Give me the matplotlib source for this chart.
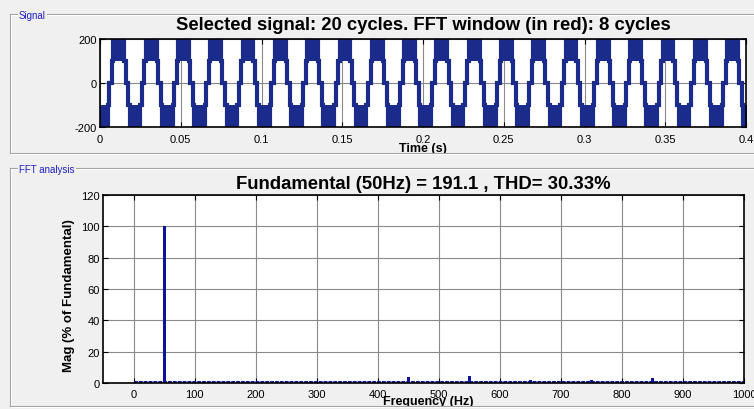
import matplotlib
matplotlib.use("Agg")
import matplotlib.pyplot as plt
from matplotlib.lines import Line2D

plt.rcParams['font.family'] = ['Liberation Sans', 'DejaVu Sans']
plt.rcParams['axes.unicode_minus'] = False

# --- signal: 5-level inverter phase voltage, one 50 Hz cycle repeated ---
CYCLE_MS = 20.0
N_CYCLES = 20
# pieces of one cycle (ms from cycle start); low != high marks a chopped band
PIECE_START = [5.0, 5.83, 7.5, 8.33, 15.0, 15.83, 17.5, 18.33]
PIECE_END = [5.83, 7.5, 8.33, 15.0, 15.83, 17.5, 18.33, 25.0]
PIECE_LOW = [-100, 0, 100, 100, 100, 0, -100, -200]
PIECE_HIGH = [-100, 0, 100, 200, 100, 0, -100, -100]

TIME_TICKS = [0, 0.05, 0.1, 0.15, 0.2, 0.25, 0.3, 0.35, 0.4]
TIME_LABELS = ['0', '0.05', '0.1', '0.15', '0.2', '0.25', '0.3', '0.35', '0.4']
SIG_TICKS = [-200, 0, 200]

# --- FFT of the 8-cycle window ---
HARM_FREQ = [50, 250, 350, 450, 550, 650, 750, 850, 950]
HARM_MAG = [100, 1.3, 0.8, 4.0, 4.6, 1.8, 2.2, 3.0, 0.8]
NOISE_FLOOR = 0.7
FREQ_TICKS = [0, 100, 200, 300, 400, 500, 600, 700, 800, 900, 1000]
MAG_TICKS = [0, 20, 40, 60, 80, 100, 120]

SIG_TITLE = 'Selected signal: 20 cycles. FFT window (in red): 8 cycles'
FFT_TITLE = 'Fundamental (50Hz) = 191.1 , THD= 30.33%'

SIG_COLOR = '#1A2B8C'
BAR_COLOR = '#0C149E'
GRID_COLOR = '#8A8A8A'
BG = '#F0F0F0'

W, H = 754, 410
fig = plt.figure(figsize=(W / 100, H / 100), dpi=100, facecolor=BG)


def box(left, top, right, bottom):
    return [left / W, 1 - bottom / H, (right - left) / W, (bottom - top) / H]


def etched(x0, y0, x1, y1):
    # grey line with a white highlight one pixel below/right
    for col, d in (('#A0A0A0', 0), ('white', 1)):
        fig.add_artist(Line2D([(x0 + d) / W, (x1 + d) / W],
                              [1 - (y0 + d) / H, 1 - (y1 + d) / H],
                              transform=fig.transFigure, color=col, lw=0.8))


def panel(left, top, bottom, title):
    etched(left, top, W, top)
    etched(left, top, left, bottom)
    etched(left, bottom, W, bottom)
    fig.text((left + 9) / W, 1 - (top + 1) / H, title, color='#1F1FCC',
             fontsize=7, ha='left', va='center',
             bbox=dict(facecolor=BG, edgecolor='none', pad=0.8))


panel(10, 15, 154, 'Signal')
panel(10, 169, 407, 'FFT analysis')


def style_axes(ax):
    ax.set_facecolor('white')
    ax.grid(True, color=GRID_COLOR, lw=0.8)
    ax.set_axisbelow(True)
    ax.tick_params(direction='in', length=3.5, width=0.8, top=True,
                   right=True, labelsize=8, colors='black')
    for sp in ax.spines.values():
        sp.set_linewidth(1.2)


# ---- signal panel ----
ax1 = fig.add_axes(box(100, 40, 746, 128))
t_line, v_line = [], []
for k in range(-1, N_CYCLES):
    t0 = k * CYCLE_MS
    for s, e, lo, hi in zip(PIECE_START, PIECE_END, PIECE_LOW, PIECE_HIGH):
        a, b = (t0 + s) / 1000, (t0 + e) / 1000
        if lo == hi:
            t_line += [a, b]
            v_line += [lo, lo]
        else:
            inner, outer = (lo, hi) if abs(lo) < abs(hi) else (hi, lo)
            t_line += [a, a, b, b]
            v_line += [inner, outer, outer, inner]
            ax1.fill_between([a, b], lo, hi, color=SIG_COLOR, lw=0)
ax1.plot(t_line, v_line, color=SIG_COLOR, lw=3.0, solid_joinstyle='miter')

style_axes(ax1)
ax1.set_xlim(0, 0.4)
ax1.set_ylim(-200, 200)
ax1.set_xticks(TIME_TICKS, TIME_LABELS)
ax1.set_yticks(SIG_TICKS)
ax1.tick_params(axis='x', pad=5)
ax1.tick_params(axis='y', pad=2)
ax1.set_title(SIG_TITLE, fontsize=13.3, fontweight='bold', pad=7)
ax1.set_xlabel('Time (s)', fontsize=9, fontweight='bold')
ax1.xaxis.set_label_coords(0.5, -0.165)

# ---- FFT panel ----
ax2 = fig.add_axes(box(103, 196, 744, 384))
ax2.plot([0, 1000], [NOISE_FLOOR, NOISE_FLOOR], color=BAR_COLOR, lw=1.4,
         ls=(0, (2.0, 0.5)))
ax2.bar(HARM_FREQ, HARM_MAG, width=5, color=BAR_COLOR, lw=0)

style_axes(ax2)
ax2.set_xlim(-50, 1000)
ax2.set_ylim(0, 120)
ax2.set_xticks(FREQ_TICKS)
ax2.set_yticks(MAG_TICKS)
ax2.tick_params(axis='x', pad=4)
ax2.tick_params(axis='y', pad=2.5)
ax2.set_title(FFT_TITLE, fontsize=13.3, fontweight='bold', pad=5)
ax2.set_xlabel('Frequency (Hz)', fontsize=9, fontweight='bold')
ax2.xaxis.set_label_coords(0.507, -0.066)
ax2.set_ylabel('Mag (% of Fundamental)', fontsize=9.5, fontweight='bold')
ax2.yaxis.set_label_coords(-0.043, 0.468)

fig.savefig('out.png', dpi=100, facecolor=BG)
